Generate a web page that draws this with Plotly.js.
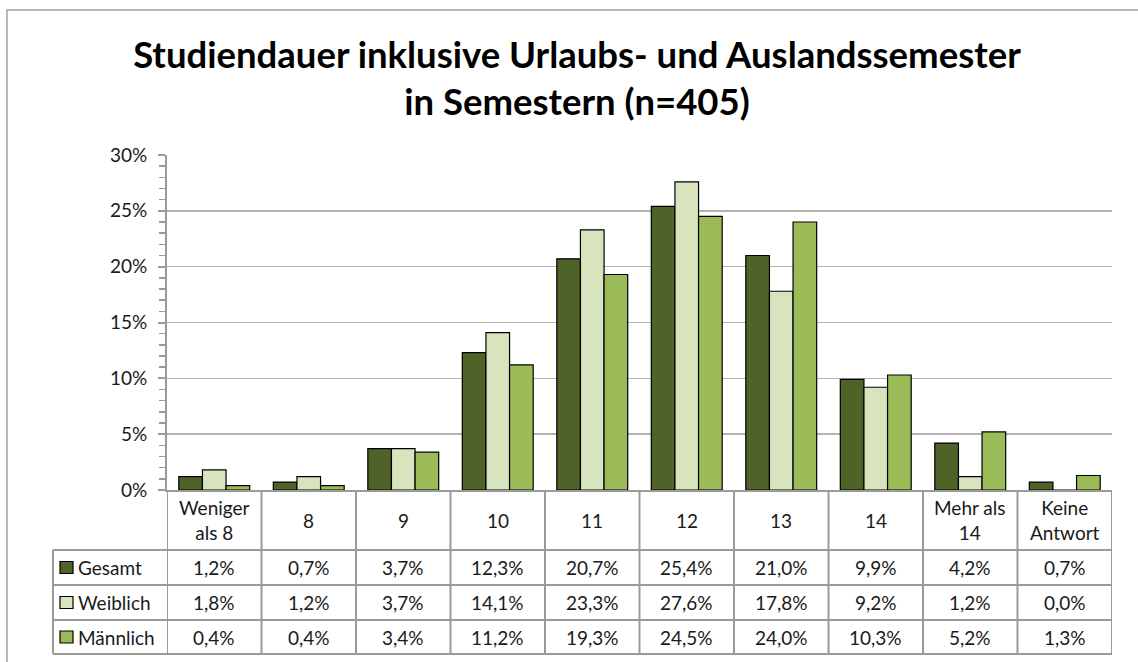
<!DOCTYPE html>
<html>
<head>
<meta charset="utf-8">
<script src="https://cdn.plot.ly/plotly-3.0.1.min.js"></script>
<style>html,body{margin:0;padding:0;background:#fff;}#chart{width:1138px;height:662px;}</style>
</head>
<body>
<div id="chart"></div>
<script>
const categories = ["Weniger<br>als 8", "8", "9", "10", "11", "12", "13", "14", "Mehr als<br>14", "Keine<br>Antwort"];
const seriesNames = ["Gesamt", "Weiblich", "Männlich"];
const gesamt   = [1.2, 0.7, 3.7, 12.3, 20.7, 25.4, 21.0, 9.9, 4.2, 0.7];
const weiblich = [1.8, 1.2, 3.7, 14.1, 23.3, 27.6, 17.8, 9.2, 1.2, 0.0];
const maennlich= [0.4, 0.4, 3.4, 11.2, 19.3, 24.5, 24.0, 10.3, 5.2, 1.3];
const seriesValues = [gesamt, weiblich, maennlich];
const colors = ["#4F6228", "#D7E4BD", "#9BBB59"];

const W = 1138, H = 662;
const L = 167, R = 26, T = 155, B = 172;
const plotW = W - L - R, plotH = H - T - B;
const px2x = p => (p - L) / plotW;
const py2y = p => (H - B - p) / plotH;

const font = "Lato, 'Open Sans', sans-serif";
const gridCol = "#b3b3b3";
const lineCol = "#9a9a9a";

const idx = categories.map((c, i) => i);

const traces = seriesNames.map((n, s) => ({
  type: "bar",
  name: n,
  x: idx,
  y: seriesValues[s],
  marker: {color: colors[s], line: {color: "#000", width: 1.2}},
  hoverinfo: "x+y+name"
}));

const shapes = [];
const annotations = [];
const rowLines = [550, 585, 620, 654];
rowLines.forEach(py => shapes.push({type: "line", xref: "paper", yref: "paper", x0: px2x(53), x1: 1, y0: py2y(py), y1: py2y(py), line: {color: lineCol, width: 2}}));
for (let i = 0; i <= categories.length; i++) {
  shapes.push({type: "line", xref: "x", yref: "paper", x0: i - 0.5, x1: i - 0.5, y0: 0, y1: py2y(654), line: {color: lineCol, width: 2}});
}
shapes.push({type: "line", xref: "paper", yref: "paper", x0: px2x(53), x1: px2x(53), y0: py2y(550), y1: py2y(654), line: {color: lineCol, width: 2}});
shapes.push({type: "rect", xref: "paper", yref: "paper", x0: px2x(7), x1: px2x(1145), y0: py2y(10), y1: py2y(680), line: {color: "#a0a0a0", width: 1.5}, fillcolor: "rgba(0,0,0,0)"});

const txtFont = {family: font, size: 19, color: "#1a1a1a"};
categories.forEach((c, i) => annotations.push({xref: "x", yref: "paper", x: i, y: py2y(520), xanchor: "center", yanchor: "middle", text: c, showarrow: false, font: txtFont, align: "center"}));

const rowCenters = [567.5, 602.5, 637];
seriesNames.forEach((n, s) => {
  const cy = rowCenters[s];
  shapes.push({type: "rect", xref: "paper", yref: "paper", x0: px2x(60), x1: px2x(73), y0: py2y(cy - 6), y1: py2y(cy + 6), fillcolor: colors[s], line: {color: "#000", width: 1.2}});
  annotations.push({xref: "paper", yref: "paper", x: px2x(76), y: py2y(cy), xanchor: "left", yanchor: "middle", text: n, showarrow: false, font: txtFont});
  seriesValues[s].forEach((v, i) => annotations.push({xref: "x", yref: "paper", x: i, y: py2y(cy), xanchor: "center", yanchor: "middle", text: v.toFixed(1).replace(".", ",") + "%", showarrow: false, font: txtFont}));
});

const layout = {
  width: W, height: H,
  margin: {l: L, r: R, t: T, b: B},
  paper_bgcolor: "#fff", plot_bgcolor: "#fff",
  title: {text: "<b>Studiendauer inklusive Urlaubs- und Auslandssemester<br>in Semestern (n=405)</b>", font: {family: font, size: 36.5, color: "#000"}, x: 0.507, xanchor: "center", y: 0.898, yanchor: "top"},
  showlegend: false,
  barmode: "group",
  bargap: 0.25,
  bargroupgap: 0,
  xaxis: {type: "linear", range: [-0.5, categories.length - 0.5], showticklabels: false, showgrid: false, zeroline: false, showline: true, linecolor: lineCol, linewidth: 2, ticks: ""},
  yaxis: {range: [0, 30], dtick: 5, ticksuffix: "%", showgrid: true, gridcolor: gridCol, gridwidth: 1.5, zeroline: false, showline: true, linecolor: lineCol, linewidth: 2, ticks: "outside", ticklen: 7, tickcolor: lineCol, tickwidth: 2, ticklabelstandoff: 7,
    minor: {dtick: 1, ticks: "outside", ticklen: 6, tickcolor: lineCol, tickwidth: 1.5, showgrid: false},
    tickfont: {family: font, size: 19, color: "#1a1a1a"}},
  shapes: shapes,
  annotations: annotations
};

Plotly.newPlot("chart", traces, layout, {displayModeBar: false, staticPlot: true});
</script>
</body>
</html>
